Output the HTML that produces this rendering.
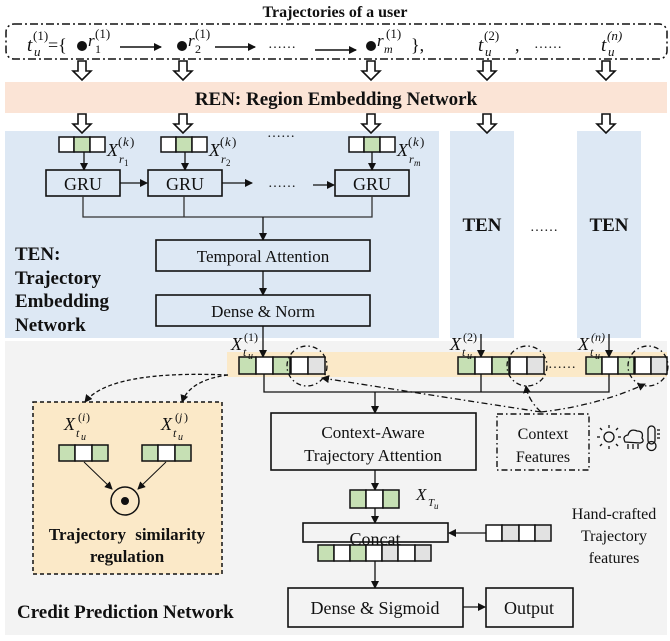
<!DOCTYPE html>
<html><head><meta charset="utf-8"><style>
html,body{margin:0;padding:0;background:#fff;}
svg{display:block;}
text{font-family:"Liberation Serif",serif;fill:#111;}
.b{font-weight:bold;}
.i{font-style:italic;}
</style></head><body>
<svg width="670" height="641" viewBox="0 0 670 641" xmlns="http://www.w3.org/2000/svg">
<defs>
<marker id="a" markerWidth="8" markerHeight="8" refX="7" refY="4" orient="auto" markerUnits="userSpaceOnUse"><path d="M0,0 L8,4 L0,8 z" fill="#111"/></marker>
<g id="ha"><polygon points="-4,0 4,0 4,10 9,10 0,19 -9,10 -4,10" fill="#fff" stroke="#111" stroke-width="1.6"/></g>
</defs>

<rect x="5" y="82" width="662" height="31" fill="#fbe4d6"/>
<rect x="5" y="131" width="434" height="207" fill="#dde8f4"/>
<rect x="450" y="131" width="64" height="207" fill="#dde8f4"/>
<rect x="577" y="131" width="64" height="207" fill="#dde8f4"/>
<rect x="5" y="341" width="662" height="294" fill="#f3f3f3"/>
<rect x="227" y="352" width="440" height="25" fill="#fbe9c8"/>
<rect x="33" y="402" width="189" height="172" fill="#fbe9c8" stroke="#111" stroke-width="1.5" stroke-dasharray="4,3"/>

<text x="335" y="17" text-anchor="middle" class="b" font-size="16">Trajectories of a user</text>
<rect x="6" y="24" width="661" height="35" rx="8" fill="none" stroke="#111" stroke-width="1.5" stroke-dasharray="8,3,2,3"/>

<text x="27" y="51" class="i" font-size="19">t</text><text x="34" y="56" class="i" font-size="13">u</text><text x="33" y="40" font-size="13">(1)</text>
<text x="48" y="51" font-size="18">={</text>
<circle cx="82" cy="46" r="5" fill="#111"/>
<text x="88" y="46" class="i" font-size="17">r</text><text x="95" y="53" font-size="12">1</text><text x="95" y="38" font-size="13">(1)</text>
<line x1="120" y1="47" x2="161" y2="47" stroke="#111" stroke-width="1.5" marker-end="url(#a)"/>
<circle cx="182" cy="46" r="5" fill="#111"/>
<text x="188" y="46" class="i" font-size="17">r</text><text x="195" y="53" font-size="12">2</text><text x="195" y="38" font-size="13">(1)</text>
<line x1="215" y1="47" x2="255" y2="47" stroke="#111" stroke-width="1.5" marker-end="url(#a)"/>
<text x="268" y="48" font-size="14">……</text>
<line x1="315" y1="50" x2="356" y2="50" stroke="#111" stroke-width="1.5" marker-end="url(#a)"/>
<circle cx="371" cy="46" r="5" fill="#111"/>
<text x="377" y="46" class="i" font-size="17">r</text><text x="384" y="53" class="i" font-size="12">m</text><text x="386" y="38" font-size="13">(1)</text>
<text x="411" y="51" font-size="18">},</text>
<text x="478" y="51" class="i" font-size="19">t</text><text x="485" y="56" class="i" font-size="13">u</text><text x="484" y="40" font-size="13">(2)</text>
<text x="515" y="51" font-size="18">,</text>
<text x="534" y="48" font-size="14">……</text>
<text x="601" y="51" class="i" font-size="19">t</text><text x="608" y="56" class="i" font-size="13">u</text><text x="607" y="40" class="i" font-size="13">(n)</text>

<use href="#ha" x="82" y="61"/><use href="#ha" x="183" y="61"/><use href="#ha" x="371" y="61"/><use href="#ha" x="487" y="61"/><use href="#ha" x="606" y="61"/>
<text x="336" y="105" text-anchor="middle" class="b" font-size="19">REN: Region Embedding Network</text>
<use href="#ha" x="82" y="114"/><use href="#ha" x="183" y="114"/><use href="#ha" x="371" y="114"/><use href="#ha" x="487" y="114"/><use href="#ha" x="606" y="114"/>

<g stroke="#111" stroke-width="1.5">
<rect x="59" y="137" width="15" height="15" fill="#fff"/><rect x="74" y="137" width="16" height="15" fill="#c6e0b4"/><rect x="90" y="137" width="15" height="15" fill="#fff"/>
<rect x="161" y="137" width="15" height="15" fill="#fff"/><rect x="176" y="137" width="16" height="15" fill="#c6e0b4"/><rect x="192" y="137" width="15" height="15" fill="#fff"/>
<rect x="349" y="137" width="15" height="15" fill="#fff"/><rect x="364" y="137" width="16" height="15" fill="#c6e0b4"/><rect x="380" y="137" width="15" height="15" fill="#fff"/>
</g>
<text x="267" y="137" font-size="14">……</text>
<text x="107" y="156" class="i" font-size="18">X</text><text x="119" y="163" class="i" font-size="12">r</text><text x="124" y="166" font-size="9">1</text><text x="118" y="146" font-size="13">(</text><text x="123" y="146" class="i" font-size="13">k</text><text x="130" y="146" font-size="13">)</text>
<text x="209" y="156" class="i" font-size="18">X</text><text x="221" y="163" class="i" font-size="12">r</text><text x="226" y="166" font-size="9">2</text><text x="220" y="146" font-size="13">(</text><text x="225" y="146" class="i" font-size="13">k</text><text x="232" y="146" font-size="13">)</text>
<text x="397" y="156" class="i" font-size="18">X</text><text x="409" y="163" class="i" font-size="12">r</text><text x="414" y="166" class="i" font-size="9">m</text><text x="408" y="146" font-size="13">(</text><text x="413" y="146" class="i" font-size="13">k</text><text x="420" y="146" font-size="13">)</text>

<g stroke="#111" stroke-width="1.3" fill="none">
<line x1="84" y1="152" x2="84" y2="170" marker-end="url(#a)"/>
<line x1="185" y1="152" x2="185" y2="170" marker-end="url(#a)"/>
<line x1="372" y1="152" x2="372" y2="170" marker-end="url(#a)"/>
<rect x="46" y="170" width="74" height="26" fill="#dde8f4" stroke-width="1.6"/>
<rect x="148" y="170" width="74" height="26" fill="#dde8f4" stroke-width="1.6"/>
<rect x="335" y="170" width="74" height="26" fill="#dde8f4" stroke-width="1.6"/>
<line x1="120" y1="183" x2="147" y2="183" marker-end="url(#a)"/>
<line x1="222" y1="183" x2="252" y2="183" marker-end="url(#a)"/>
<line x1="313" y1="185" x2="334" y2="185" marker-end="url(#a)"/>
<polyline points="83,196 83,217 372,217 372,196" stroke="#333"/>
<line x1="184" y1="196" x2="184" y2="217" stroke="#333"/>
<line x1="263" y1="217" x2="263" y2="240" marker-end="url(#a)"/>
<rect x="156" y="240" width="214" height="31" fill="#dde8f4" stroke-width="1.6"/>
<line x1="263" y1="271" x2="263" y2="295" marker-end="url(#a)"/>
<rect x="156" y="295" width="214" height="31" fill="#dde8f4" stroke-width="1.6"/>
</g>
<text x="268" y="187" font-size="14">……</text>
<text x="83" y="190" text-anchor="middle" font-size="18">GRU</text>
<text x="185" y="190" text-anchor="middle" font-size="18">GRU</text>
<text x="372" y="190" text-anchor="middle" font-size="18">GRU</text>
<text x="263" y="262" text-anchor="middle" font-size="17">Temporal Attention</text>
<text x="263" y="317" text-anchor="middle" font-size="17">Dense &amp; Norm</text>
<g class="b" font-size="19">
<text x="15" y="260" class="b">TEN:</text>
<text x="15" y="284" class="b">Trajectory</text>
<text x="15" y="307" class="b">Embedding</text>
<text x="15" y="331" class="b">Network</text>
<text x="482" y="231" text-anchor="middle" class="b">TEN</text>
<text x="609" y="231" text-anchor="middle" class="b">TEN</text>
</g>
<text x="530" y="231" font-size="14">……</text>

<g stroke="#111" stroke-width="1.3" fill="none">
<line x1="263" y1="326" x2="263" y2="357" marker-end="url(#a)"/>
<line x1="481" y1="334" x2="481" y2="357" marker-end="url(#a)"/>
<line x1="609" y1="334" x2="609" y2="357" marker-end="url(#a)"/>
</g>
<g stroke="#111" stroke-width="1.5">
<rect x="239" y="357" width="17" height="17" fill="#c6e0b4"/><rect x="256" y="357" width="17" height="17" fill="#fff"/><rect x="273" y="357" width="17" height="17" fill="#c6e0b4"/><rect x="291" y="357" width="17" height="17" fill="#fff"/><rect x="308" y="357" width="17" height="17" fill="#e2e2e2"/>
<rect x="458" y="357" width="17" height="17" fill="#c6e0b4"/><rect x="475" y="357" width="17" height="17" fill="#fff"/><rect x="492" y="357" width="17" height="17" fill="#c6e0b4"/><rect x="510" y="357" width="17" height="17" fill="#fff"/><rect x="527" y="357" width="17" height="17" fill="#e2e2e2"/>
<rect x="586" y="357" width="16" height="17" fill="#c6e0b4"/><rect x="602" y="357" width="16" height="17" fill="#fff"/><rect x="618" y="357" width="16" height="17" fill="#c6e0b4"/><rect x="635" y="357" width="16" height="17" fill="#fff"/><rect x="651" y="357" width="16" height="17" fill="#e2e2e2"/>
</g>
<text x="548" y="368" font-size="14">……</text>
<text x="231" y="350" class="i" font-size="18">X</text><text x="243" y="356" class="i" font-size="12">t</text><text x="248" y="359" class="i" font-size="10">u</text><text x="244" y="341" font-size="12">(1)</text>
<text x="450" y="350" class="i" font-size="18">X</text><text x="462" y="356" class="i" font-size="12">t</text><text x="467" y="359" class="i" font-size="10">u</text><text x="463" y="341" font-size="12">(2)</text>
<text x="578" y="350" class="i" font-size="18">X</text><text x="590" y="356" class="i" font-size="12">t</text><text x="595" y="359" class="i" font-size="10">u</text><text x="591" y="341" class="i" font-size="12">(n)</text>
<g fill="none" stroke="#111" stroke-width="1.3" stroke-dasharray="5,3,1.5,3">
<circle cx="307" cy="366" r="20"/><circle cx="527" cy="366" r="20"/><circle cx="648" cy="366" r="20"/>
</g>

<g stroke="#111" stroke-width="1.3" fill="none">
<polyline points="264,374 264,392 609,392 609,374"/>
<line x1="481" y1="374" x2="481" y2="392"/>
<line x1="375" y1="392" x2="375" y2="413" marker-end="url(#a)"/>
<rect x="271" y="413" width="205" height="57" fill="#f3f3f3" stroke-width="1.6"/>
</g>
<text x="373" y="438" text-anchor="middle" font-size="17">Context-Aware</text>
<text x="373" y="461" text-anchor="middle" font-size="17">Trajectory Attention</text>

<rect x="497" y="414" width="92" height="56" fill="none" stroke="#111" stroke-width="1.4" stroke-dasharray="6,3,1.5,3"/>
<text x="543" y="439" text-anchor="middle" font-size="16">Context</text>
<text x="543" y="462" text-anchor="middle" font-size="16">Features</text>
<g fill="none" stroke="#111" stroke-width="1.3" stroke-dasharray="6,3,1.5,3">
<path d="M541,412 Q430,395 322,378" marker-end="url(#a)"/>
<path d="M541,412 Q528,400 526,386" marker-end="url(#a)"/>
<path d="M541,412 Q600,405 645,384" marker-end="url(#a)"/>
</g>
<g stroke="#111" stroke-width="1.3" fill="none">
<circle cx="609" cy="437" r="5"/>
<line x1="600" y1="437" x2="597" y2="437"/><line x1="618" y1="437" x2="621" y2="437"/><line x1="609" y1="428" x2="609" y2="425"/><line x1="609" y1="446" x2="609" y2="449"/>
<line x1="602" y1="430" x2="600" y2="428"/><line x1="616" y1="444" x2="618" y2="446"/><line x1="616" y1="430" x2="618" y2="428"/><line x1="602" y1="444" x2="600" y2="446"/>
<path d="M625,442 Q622,436 628,435 Q630,428 637,431 Q644,431 642,438 Q645,442 640,443 Z"/>
<line x1="628" y1="444" x2="628" y2="449"/><line x1="633" y1="444" x2="633" y2="449"/><line x1="638" y1="444" x2="638" y2="449"/>
<rect x="648" y="426" width="7" height="18" rx="3.5"/><circle cx="651.5" cy="446" r="4.5"/>
<line x1="657" y1="430" x2="660" y2="430"/><line x1="657" y1="434" x2="660" y2="434"/><line x1="657" y1="438" x2="660" y2="438"/>
</g>

<g fill="none" stroke="#111" stroke-width="1.3" stroke-dasharray="4,2.5">
<path d="M228,375 Q110,370 85,402" marker-end="url(#a)"/>
<path d="M228,375 Q190,380 182,402" marker-end="url(#a)"/>
</g>

<text x="64" y="430" class="i" font-size="18">X</text><text x="76" y="437" class="i" font-size="12">t</text><text x="81" y="440" class="i" font-size="10">u</text><text x="78" y="421" font-size="12">(</text><text x="82" y="421" class="i" font-size="12">i</text><text x="86" y="421" font-size="12">)</text>
<text x="161" y="430" class="i" font-size="18">X</text><text x="173" y="437" class="i" font-size="12">t</text><text x="178" y="440" class="i" font-size="10">u</text><text x="175" y="421" font-size="12">(</text><text x="179" y="421" class="i" font-size="12">j</text><text x="184" y="421" font-size="12">)</text>
<g stroke="#111" stroke-width="1.5">
<rect x="59" y="445" width="16" height="16" fill="#c6e0b4"/><rect x="75" y="445" width="17" height="16" fill="#fff"/><rect x="92" y="445" width="16" height="16" fill="#c6e0b4"/>
<rect x="142" y="445" width="16" height="16" fill="#c6e0b4"/><rect x="158" y="445" width="17" height="16" fill="#fff"/><rect x="175" y="445" width="16" height="16" fill="#c6e0b4"/>
</g>
<g stroke="#111" stroke-width="1" fill="none">
<line x1="84" y1="462" x2="112" y2="489" marker-end="url(#a)"/>
<line x1="166" y1="462" x2="138" y2="489" marker-end="url(#a)"/>
<circle cx="125" cy="501" r="14" stroke-width="1.5"/>
</g>
<circle cx="125" cy="501" r="4" fill="#111"/>
<text x="127" y="540" text-anchor="middle" class="b" font-size="17" word-spacing="5">Trajectory similarity</text>
<text x="127" y="562" text-anchor="middle" class="b" font-size="17">regulation</text>

<g stroke="#111" stroke-width="1.3" fill="none">
<line x1="375" y1="470" x2="375" y2="490" marker-end="url(#a)"/>
<line x1="375" y1="508" x2="375" y2="523" marker-end="url(#a)"/>
<rect x="303" y="523" width="145" height="19" fill="#f3f3f3" stroke-width="1.6"/>
<line x1="486" y1="533" x2="449" y2="533" marker-end="url(#a)"/>
<line x1="375" y1="561" x2="375" y2="588" marker-end="url(#a)"/>
<rect x="288" y="588" width="175" height="39" fill="#f3f3f3" stroke-width="1.6"/>
<line x1="463" y1="607" x2="485" y2="607" marker-end="url(#a)"/>
<rect x="486" y="588" width="87" height="39" fill="#f3f3f3" stroke-width="1.6"/>
</g>
<g stroke="#111" stroke-width="1.5">
<rect x="350" y="490" width="16" height="18" fill="#c6e0b4"/><rect x="366" y="490" width="17" height="18" fill="#fff"/><rect x="383" y="490" width="16" height="18" fill="#c6e0b4"/>
<rect x="486" y="525" width="16" height="16" fill="#fff"/><rect x="502" y="525" width="17" height="16" fill="#e2e2e2"/><rect x="519" y="525" width="16" height="16" fill="#fff"/><rect x="535" y="525" width="16" height="16" fill="#e2e2e2"/>
<rect x="318" y="545" width="16" height="16" fill="#c6e0b4"/><rect x="334" y="545" width="16" height="16" fill="#fff"/><rect x="350" y="545" width="16" height="16" fill="#c6e0b4"/><rect x="366" y="545" width="16" height="16" fill="#fff"/><rect x="382" y="545" width="16" height="16" fill="#e2e2e2"/><rect x="398" y="545" width="17" height="16" fill="#fff"/><rect x="415" y="545" width="16" height="16" fill="#e2e2e2"/>
</g>
<text x="416" y="500" class="i" font-size="17">X</text><text x="428" y="506" class="i" font-size="11">T</text><text x="434" y="509" class="i" font-size="9">u</text>
<text x="375" y="545" text-anchor="middle" font-size="18">Concat</text>
<text x="614" y="519" text-anchor="middle" font-size="16">Hand-crafted</text>
<text x="614" y="541" text-anchor="middle" font-size="16">Trajectory</text>
<text x="614" y="563" text-anchor="middle" font-size="16">features</text>
<text x="375" y="614" text-anchor="middle" font-size="18">Dense &amp; Sigmoid</text>
<text x="529" y="614" text-anchor="middle" font-size="18">Output</text>
<text x="17" y="618" class="b" font-size="19">Credit Prediction Network</text>
</svg>
</body></html>
